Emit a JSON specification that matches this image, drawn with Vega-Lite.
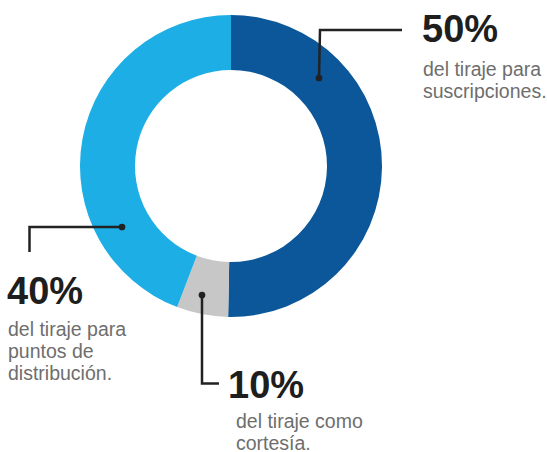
{
  "$schema": "https://vega.github.io/schema/vega-lite/v6.json",
  "width": 547,
  "height": 452,
  "padding": 0,
  "autosize": {"type": "none"},
  "background": "white",
  "config": {"view": {"stroke": null}, "font": "Liberation Sans"},
  "datasets": {
    "segmentos": [
      {"segmento": "Suscripciones", "valor": 50.3, "orden": 1},
      {"segmento": "Cortesía", "valor": 5.5, "orden": 2},
      {"segmento": "Puntos de distribución", "valor": 44.2, "orden": 3}
    ],
    "guias": [
      {"guia": "suscripciones", "seq": 0, "px": 319, "py": 78},
      {"guia": "suscripciones", "seq": 1, "px": 320, "py": 30},
      {"guia": "suscripciones", "seq": 2, "px": 402, "py": 30},
      {"guia": "distribucion", "seq": 0, "px": 122, "py": 227},
      {"guia": "distribucion", "seq": 1, "px": 29.5, "py": 227},
      {"guia": "distribucion", "seq": 2, "px": 29.5, "py": 252},
      {"guia": "cortesia", "seq": 0, "px": 202, "py": 295},
      {"guia": "cortesia", "seq": 1, "px": 202, "py": 383.5},
      {"guia": "cortesia", "seq": 2, "px": 219, "py": 383.5}
    ],
    "textos": [
      {"tipo": "cifra", "texto": "50%", "px": 422, "py": 42},
      {"tipo": "desc", "texto": "del tiraje para", "px": 423, "py": 75.5},
      {"tipo": "desc", "texto": "suscripciones.", "px": 423, "py": 97.5},
      {"tipo": "cifra", "texto": "40%", "px": 7, "py": 304},
      {"tipo": "desc", "texto": "del tiraje para", "px": 8, "py": 335.5},
      {"tipo": "desc", "texto": "puntos de", "px": 8, "py": 357.5},
      {"tipo": "desc", "texto": "distribución.", "px": 8, "py": 379.5},
      {"tipo": "cifra", "texto": "10%", "px": 228, "py": 398},
      {"tipo": "desc", "texto": "del tiraje como", "px": 236, "py": 428},
      {"tipo": "desc", "texto": "cortesía.", "px": 236, "py": 449.5}
    ]
  },
  "layer": [
    {
      "data": {"name": "segmentos"},
      "mark": {"type": "arc", "innerRadius": 96, "outerRadius": 151},
      "encoding": {
        "theta": {"field": "valor", "type": "quantitative", "stack": true},
        "order": {"field": "orden", "type": "quantitative"},
        "color": {
          "field": "segmento",
          "type": "nominal",
          "scale": {
            "domain": ["Suscripciones", "Cortesía", "Puntos de distribución"],
            "range": ["#0B5799", "#C7C7C7", "#1CAEE5"]
          },
          "legend": null
        },
        "x": {"datum": 231, "type": "quantitative", "scale": {"domain": [0, 547], "nice": false, "zero": false}, "axis": null},
        "y": {"datum": 166, "type": "quantitative", "scale": {"domain": [0, 452], "nice": false, "zero": false, "reverse": true}, "axis": null}
      }
    },
    {
      "data": {"name": "guias"},
      "mark": {"type": "line", "color": "#222222", "strokeWidth": 2.5, "strokeJoin": "miter", "strokeCap": "butt"},
      "encoding": {
        "x": {"field": "px", "type": "quantitative", "axis": null},
        "y": {"field": "py", "type": "quantitative", "axis": null},
        "detail": {"field": "guia"},
        "order": {"field": "seq", "type": "quantitative"}
      }
    },
    {
      "data": {"name": "guias"},
      "transform": [{"filter": "datum.seq == 0"}],
      "mark": {"type": "point", "filled": true, "color": "#222222", "opacity": 1, "size": 45},
      "encoding": {
        "x": {"field": "px", "type": "quantitative", "axis": null},
        "y": {"field": "py", "type": "quantitative", "axis": null}
      }
    },
    {
      "data": {"name": "textos"},
      "transform": [{"filter": "datum.tipo == 'cifra'"}],
      "mark": {"type": "text", "align": "left", "baseline": "alphabetic", "fontSize": 38, "fontWeight": "bold", "color": "#1E1E1E", "font": "Liberation Sans"},
      "encoding": {
        "x": {"field": "px", "type": "quantitative", "axis": null},
        "y": {"field": "py", "type": "quantitative", "axis": null},
        "text": {"field": "texto"}
      }
    },
    {
      "data": {"name": "textos"},
      "transform": [{"filter": "datum.tipo == 'desc'"}],
      "mark": {"type": "text", "align": "left", "baseline": "alphabetic", "fontSize": 19.5, "color": "#6E6E6E", "font": "Liberation Sans"},
      "encoding": {
        "x": {"field": "px", "type": "quantitative", "axis": null},
        "y": {"field": "py", "type": "quantitative", "axis": null},
        "text": {"field": "texto"}
      }
    }
  ]
}
